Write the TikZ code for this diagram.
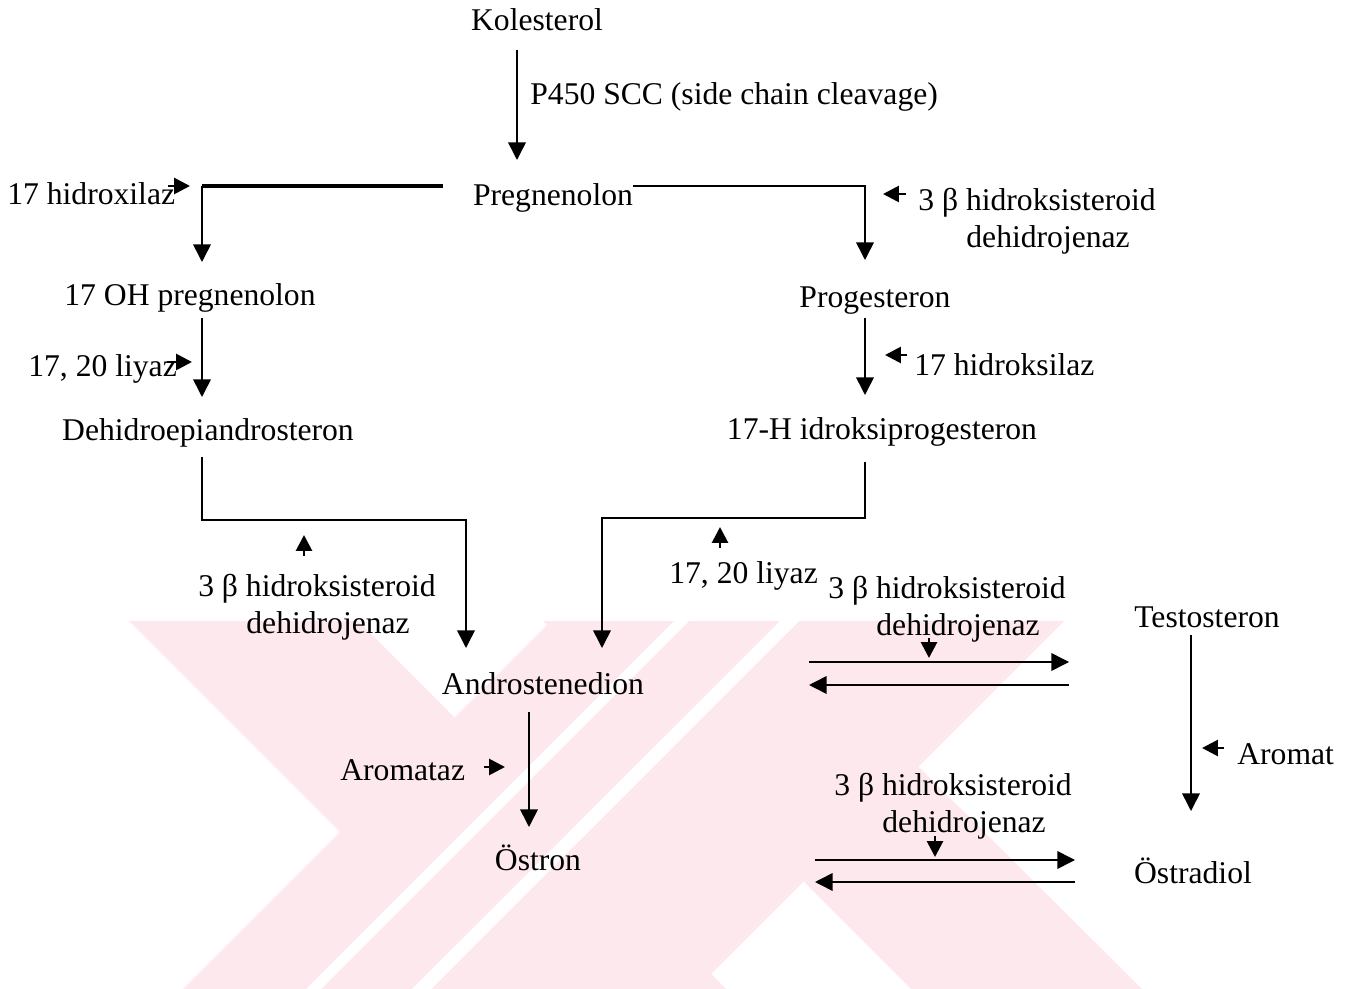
\documentclass[tikz,border=0pt]{standalone}
\usepackage{fontspec}
\setmainfont{Liberation Serif}
\usetikzlibrary{arrows.meta,calc}
\definecolor{stamp}{HTML}{FDE8ED}

\begin{document}
\begin{tikzpicture}[
  x=0.02cm, y=-0.02cm,
  mol/.style={font=\fontsize{18}{21}\selectfont, inner sep=0pt, anchor=base},
  lbl/.style={font=\fontsize{18}{21}\selectfont, inner sep=0pt, align=center},
  arr/.style={-{Triangle[length=10pt,width=10pt]}, line width=0.9pt},
  enz/.style={-{Triangle[length=9pt,width=9pt]}, line width=1.6pt},
  heavy/.style={line width=2.8pt}
]
  \useasboundingbox (0,0) rectangle (1349,989);
  % watermark in the background
  \fill[stamp] (129,621) -- (358,621) -- (726,989) -- (497,989) -- cycle;
  \fill[stamp] (551,621) -- (780,621) -- (412,989) -- (183,989) -- cycle;
  \fill[stamp] (799,621) -- (1064,621) -- (696,989) -- (431,989) -- cycle;
  \fill[stamp] (543,621) -- (772,621) -- (1142,989) -- (911,989) -- cycle;
  \fill[white] (780,621) -- (799,621) -- (431,989) -- (412,989) -- cycle;
  \fill[white] (674,621) -- (689,621) -- (321,989) -- (306,989) -- cycle;

  % steroids
  \node[mol] (kol)       at (537,31)  {Kolesterol};
  \node[mol] (preg)      at (553,206) {Pregnenolon};
  \node[mol] (ohpreg)    at (190,306) {17 OH pregnenolon};
  \node[mol] (prog)      at (875,308) {Progesteron};
  \node[mol] (dhea)      at (208,441) {Dehidroepiandrosteron};
  \node[mol] (ohprog)    at (882,440) {17-H idroksiprogesteron};
  \node[mol] (andro)     at (543,694) {Androstenedion};
  \node[mol] (testo)     at (1207,627) {Testosteron};
  \node[mol] (ostron)    at (538,870) {Östron};
  \node[mol] (ostradiol) at (1193,883) {Östradiol};

  % enzymes
  \node[lbl,anchor=base west] (scc)         at (530,105) {P450 SCC (side chain cleavage)};
  \node[lbl,anchor=base west] (hidroxilaz)  at (7,205)   {17 hidroxilaz};
  \node[lbl]                  (hsdA)        at (1037,221) {3 β hidroksisteroid\\\hspace*{0.7em}dehidrojenaz};
  \node[lbl,anchor=base west] (liyazA)      at (28,377)  {17, 20 liyaz};
  \node[lbl,anchor=base west] (hidroksilaz) at (914,376) {17 hidroksilaz};
  \node[lbl]                  (hsdB)        at (317,607) {3 β hidroksisteroid\\\hspace*{0.7em}dehidrojenaz};
  \node[lbl,anchor=base west] (liyazB)      at (669,583) {17, 20 liyaz};
  \node[lbl]                  (hsdC)        at (947,609) {3 β hidroksisteroid\\\hspace*{0.7em}dehidrojenaz};
  \node[lbl]                  (hsdD)        at (953,806) {3 β hidroksisteroid\\\hspace*{0.7em}dehidrojenaz};
  \node[lbl,anchor=base west] (aromataz)    at (340,780) {Aromataz};
  \node[lbl,anchor=base west] (aromat)      at (1237,764) {Aromat};

  % bends and enzyme tips
  \coordinate (c1) at (202,186);
  \coordinate (c2) at (466,520);
  \coordinate (c3) at (602,518);
  \coordinate (eA) at (190,186);
  \coordinate (eB) at (883,194);
  \coordinate (eC) at (192,362);
  \coordinate (eD) at (885,355);
  \coordinate (eE) at (304,535);
  \coordinate (eF) at (720,527);
  \coordinate (eG) at (929,658);
  \coordinate (eH) at (505,767);
  \coordinate (eI) at (1202,748);
  \coordinate (eJ) at (935,857);

  % pathway
  \draw[arr] ($(kol.base)+(-20,19)$) -- ($(preg.base)+(-36,-46)$);
  \draw[heavy] ($(preg.base)+(-110,-20)$) -- (c1);
  \draw[arr] (c1) -- ($(ohpreg.base)+(12,-44)$);
  \draw[arr] ($(preg.base)+(80,-20)$) -| ($(prog.base)+(-10,-48)$);
  \draw[arr] ($(ohpreg.base)+(12,12)$) -- ($(dhea.base)+(-6,-44)$);
  \draw[arr] ($(prog.base)+(-10,10)$) -- ($(ohprog.base)+(-17,-45)$);
  \draw[arr] ($(dhea.base)+(-6,16)$) |- (c2) -- ($(andro.base)+(-77,-46)$);
  \draw[arr] ($(ohprog.base)+(-17,22)$) |- (c3) -- ($(andro.base)+(59,-46)$);
  \draw[arr] ($(andro.base)+(266,-32)$) -- ($(testo.base)+(-138,35)$);
  \draw[arr] ($(testo.base)+(-138,58)$) -- ($(andro.base)+(266,-9)$);
  \draw[arr] ($(andro.base)+(-14,18)$) -- ($(ostron.base)+(-9,-43)$);
  \draw[arr] ($(testo.base)+(-16,8)$) -- ($(ostradiol.base)+(-2,-72)$);
  \draw[arr] ($(ostron.base)+(277,-10)$) -- ($(ostradiol.base)+(-118,-23)$);
  \draw[arr] ($(ostradiol.base)+(-118,-1)$) -- ($(ostron.base)+(277,12)$);

  % enzyme arrows
  \draw[enz] ($(hidroxilaz.east |- eA)+(-7,0)$) -- (eA);
  \draw[enz] ($(hsdA.west |- eB)+(-12,0)$) -- (eB);
  \draw[enz] ($(liyazA.east |- eC)+(-10,0)$) -- (eC);
  \draw[enz] ($(hidroksilaz.west |- eD)+(-7,0)$) -- (eD);
  \draw[enz] ($(eE)+(0,21)$) -- (eE);
  \draw[enz] ($(eF)+(0,21)$) -- (eF);
  \draw[enz] ($(eG)+(0,-20)$) -- (eG);
  \draw[enz] ($(aromataz.east |- eH)+(19,0)$) -- (eH);
  \draw[enz] ($(aromat.west |- eI)+(-13,0)$) -- (eI);
  \draw[enz] ($(eJ)+(0,-21)$) -- (eJ);
\end{tikzpicture}
\end{document}
